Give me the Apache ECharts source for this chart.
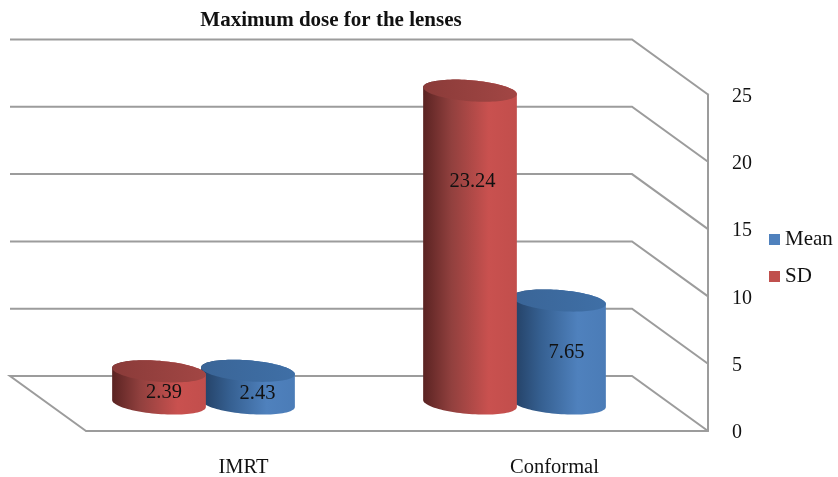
<!DOCTYPE html>
<html>
<head>
<meta charset="utf-8">
<style>html,body{margin:0;padding:0;background:#fff}#c{width:838px;height:477px}</style>
<script src="https://cdn.jsdelivr.net/npm/echarts@6/dist/echarts.min.js"></script>
</head>
<body>
<div id="c"></div>
<script>
const categories = ['IMRT', 'Conformal'];
const meanValues = [2.43, 7.65];
const sdValues = [2.39, 23.24];
const wallTicks = [0, 5, 10, 15, 20, 25];

const FONT = '"Liberation Serif","Times New Roman",serif';
const DEPTH_X = 76, DEPTH_Y = 55, LINE = '#9c9c9c';
const HALF_RATIO = 47 / 311, DODGE_RATIO = 44.5 / 311, RY = 10.5, TILT = 4.5 * Math.PI / 180;
const meanLabelShift = [[9.5, 6], [7.5, 1]];
const sdLabelShift = [[5, 5], [2.5, -65]];

function ellipsePts(cx, cy, rx, from, to, n) {
  const pts = [];
  for (let i = 0; i <= n; i++) {
    const t = from + (to - from) * i / n;
    pts.push([
      cx + rx * Math.cos(t) * Math.cos(TILT) - RY * Math.sin(t) * Math.sin(TILT),
      cy + rx * Math.cos(t) * Math.sin(TILT) + RY * Math.sin(t) * Math.cos(TILT)
    ]);
  }
  return pts;
}
function cylinder(sign, shades, labelShift) {
  return function (params, api) {
    const idx = api.value(0), v = api.value(1);
    const front = api.coord([idx, 0]), top = api.coord([idx, v]);
    const band = api.size([1, 0])[0];
    const rx = band * HALF_RATIO;
    const cx = front[0] - DEPTH_X / 2 + sign * band * DODGE_RATIO;
    const by = front[1] - DEPTH_Y / 2;
    const ty = top[1] - DEPTH_Y / 2;
    const body = ellipsePts(cx, by, rx, 0, Math.PI, 48).concat(ellipsePts(cx, ty, rx, Math.PI, 2 * Math.PI, 48));
    const side = new echarts.graphic.LinearGradient(0, 0, 1, 0, shades.side);
    const cap = new echarts.graphic.LinearGradient(0, 0, 1, 0, shades.cap);
    const s = labelShift[idx];
    return {
      type: 'group',
      children: [
        { type: 'polygon', shape: { points: body }, style: { fill: side } },
        { type: 'polygon', shape: { points: ellipsePts(cx, ty, rx, 0, 2 * Math.PI, 96) }, style: { fill: cap } },
        { type: 'text', z2: 10, style: {
            x: cx + s[0], y: (by + ty) / 2 + s[1], text: api.value(1).toFixed(2),
            font: '20.5px ' + FONT, fill: '#111', align: 'center', verticalAlign: 'middle' } }
      ]
    };
  };
}
const redShades = {
  side: [{ offset: 0, color: '#5a2322' }, { offset: 0.3, color: '#91403e' }, { offset: 0.7, color: '#c9514f' }, { offset: 1, color: '#c24e4c' }],
  cap: [{ offset: 0, color: '#8a3b39' }, { offset: 1, color: '#a24644' }]
};
const blueShades = {
  side: [{ offset: 0, color: '#233f63' }, { offset: 0.3, color: '#355f90' }, { offset: 0.7, color: '#4f81bd' }, { offset: 1, color: '#4b7cb7' }],
  cap: [{ offset: 0, color: '#3a6597' }, { offset: 1, color: '#3f6fa6' }]
};

const chart = echarts.init(document.getElementById('c'), null, { renderer: 'canvas' });
chart.setOption({
  animation: false,
  backgroundColor: '#fff',
  title: {
    text: 'Maximum dose for the lenses', left: 326, top: 5, textAlign: 'center',
    textStyle: { fontFamily: FONT, fontSize: 21, fontWeight: 'bold', color: '#111' }
  },
  legend: {
    orient: 'vertical', left: 769, top: 229, padding: 0, itemWidth: 11, itemHeight: 11, itemGap: 16, itemStyle: { borderWidth: 0 },
    data: [{ name: 'Mean', icon: 'rect' }, { name: 'SD', icon: 'rect' }],
    textStyle: { fontFamily: FONT, fontSize: 21, color: '#111' }
  },
  grid: { left: 86, right: 130, top: 94.5, bottom: 46, outerBoundsMode: 'none' },
  xAxis: {
    type: 'category', data: categories,
    axisLine: { lineStyle: { color: LINE, width: 2 } }, axisTick: { show: false },
    axisLabel: { fontFamily: FONT, fontSize: 20.5, color: '#111', margin: 26, padding: [0, 0, 0, 4] }
  },
  yAxis: {
    type: 'value', position: 'right', min: 0, max: 25, interval: 5,
    axisLine: { show: true, lineStyle: { color: LINE, width: 2 } }, axisTick: { show: false },
    splitLine: { show: false },
    axisLabel: { fontFamily: FONT, fontSize: 20, color: '#111', margin: 24, verticalAlign: 'top', lineHeight: 4 }
  },
  series: [
    {
      type: 'custom', silent: true, z: 1, name: 'wall',
      data: wallTicks.map(v => [0, v]),
      renderItem(params, api) {
        const v = api.value(1);
        const y = api.coord([0, v])[1];
        const cs = params.coordSys;
        const right = cs.x + cs.width, left = cs.x;
        const pts = [[left - DEPTH_X, y - DEPTH_Y], [right - DEPTH_X, y - DEPTH_Y], [right, y]];
        if (v === 0) pts.unshift([left, y]);
        return { type: 'polyline', shape: { points: pts }, style: { stroke: LINE, lineWidth: 2, fill: null } };
      }
    },
    {
      type: 'custom', name: 'Mean', z: 2, itemStyle: { color: '#4f81bd' },
      data: meanValues.map((v, i) => [i, v]),
      renderItem: cylinder(1, blueShades, meanLabelShift)
    },
    {
      type: 'custom', name: 'SD', z: 3, itemStyle: { color: '#c0504d' },
      data: sdValues.map((v, i) => [i, v]),
      renderItem: cylinder(-1, redShades, sdLabelShift)
    }
  ]
});
</script>
</body>
</html>
